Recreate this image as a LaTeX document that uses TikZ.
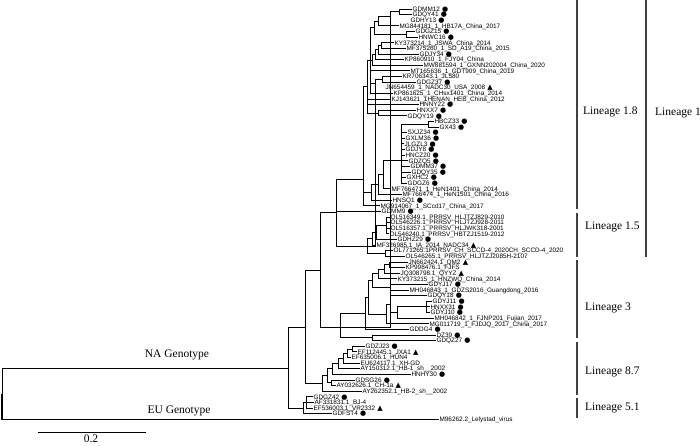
\documentclass[tikz,border=0pt]{standalone}
\usepackage{fontspec}
\setmainfont{Liberation Serif}
\newfontfamily\labfont{Liberation Sans}
\newfontfamily\mkfont{DejaVu Sans}
\newcommand\mkdot{\hspace{2.2pt}{\mkfont\fontsize{7}{7}\selectfont ●}}
\newcommand\mktri{\hspace{2.2pt}{\mkfont\fontsize{7}{7}\selectfont ▲}}
\newcommand\lf[4]{\node[leaf] (L#1) at (#2,{9+5.62*(#1-1)}) {#3#4};}
\newcommand\kids[2]{\foreach \c in {#2} {\draw[br] (#1) |- (\c);}}
\begin{document}
\begin{tikzpicture}[x=1pt,y=-1pt,
  leaf/.style={anchor=west, inner sep=0.4pt, font=\labfont\fontsize{6.4}{7}\selectfont, text height=4.6pt, text depth=0pt},
  br/.style={line width=0.8pt, black},
  lin/.style={line width=1.7pt, black!75},
  big/.style={inner sep=0pt, font=\fontsize{11.5}{13}\selectfont}]
\useasboundingbox (0,0) rectangle (700,445);
% leaves
\lf{1}{412}{GDMM12}{\mkdot}
\lf{2}{412}{GDQY41}{\mkdot}
\lf{3}{410}{GDHY13}{\mkdot}
\lf{4}{399}{MG844181\_1\_HB17A\_China\_2017}{}
\lf{5}{415}{GDGZ15}{\mkdot}
\lf{6}{418}{HNWC16}{\mkdot}
\lf{7}{394}{KY373214\_1\_JSWA\_China\_2014}{}
\lf{8}{406}{MF375260\_1\_SD\_A19\_China\_2015}{}
\lf{9}{419}{GDJY34}{\mkdot}
\lf{10}{404}{KP860910\_1\_FJY04\_China}{}
\lf{11}{423}{MW881594\_1\_GXNN202004\_China\_2020}{}
\lf{12}{410}{MT165636\_1\_GDT909\_China\_2019}{}
\lf{13}{402}{KR706343.1\_JL580}{}
\lf{14}{416}{GDGZ37}{\mkdot}
\lf{15}{385}{JN654459\_1\_NADC30\_USA\_2008}{\mktri}
\lf{16}{393}{KP861625\_1\_CHsx1401\_China\_2014}{}
\lf{17}{391}{KJ143621\_1HENAN\_HEB\_China\_2012}{}
\lf{18}{419}{HNNY22}{\mkdot}
\lf{19}{416}{HNXX7}{\mkdot}
\lf{20}{407}{GDQY19}{\mkdot}
\lf{21}{434}{HBCZ33}{\mkdot}
\lf{22}{439}{GX43}{\mkdot}
\lf{23}{407}{SXJZ34}{\mkdot}
\lf{24}{405}{GXLM36}{\mkdot}
\lf{25}{404}{JLGZL3}{\mkdot}
\lf{26}{405}{GDJY8}{\mkdot}
\lf{27}{405}{HNCZ20}{\mkdot}
\lf{28}{408}{GDZQ5}{\mkdot}
\lf{29}{410}{GDMM37}{\mkdot}
\lf{30}{411}{GDQY35}{\mkdot}
\lf{31}{406}{GXHC2}{\mkdot}
\lf{32}{407}{GDGZ6}{\mkdot}
\lf{33}{391}{MF766471\_1\_HeN1401\_China\_2014}{}
\lf{34}{402}{MF766474\_1\_HeN1501\_China\_2016}{}
\lf{35}{392}{HNSQ1}{\mkdot}
\lf{36}{380}{MG914067\_1\_SCcd17\_China\_2017}{}
\lf{37}{381}{GDMM9}{\mkdot}
\lf{38}{390}{OL516349.1\_PRRSV\_HLJTZJ829-2010}{}
\lf{39}{390}{OL546226.1\_PRRSV\_HLJTZJ928-2011}{}
\lf{40}{390}{OL516357.1\_PRRSV\_HLJWK318-2001}{}
\lf{41}{389}{OL546240.1\_PRRSV\_HBTZJ1519-2012}{}
\lf{42}{397}{GDHZ29}{\mkdot}
\lf{43}{376}{MF326985.1\_IA\_2014\_NADC34}{\mktri}
\lf{44}{393}{OL771265.1PRRSV\_CH\_SCCD-4\_2020CH\_SCCD-4\_2020}{}
\lf{45}{405}{OL546265.1\_PRRSV\_HLJTZJ2085H-2107}{}
\lf{46}{408}{JN662424.1\_QM2}{\mktri}
\lf{47}{405}{KP998476.1\_FJFS}{}
\lf{48}{400}{JQ308798.1\_QYYZ}{\mktri}
\lf{49}{397}{KY373215\_1\_HNZWQ\_China\_2014}{}
\lf{50}{428}{GDYJ17}{\mkdot}
\lf{51}{409}{MH046843\_1\_GDZS2016\_Guangdong\_2016}{}
\lf{52}{427}{GDQY18}{\mkdot}
\lf{53}{432}{GDYJ11}{\mkdot}
\lf{54}{430}{HNXX31}{\mkdot}
\lf{55}{430}{GDYJ10}{\mkdot}
\lf{56}{434}{MH046842\_1\_FJNP201\_Fujian\_2017}{}
\lf{57}{429}{MG011719\_1\_FJDJQ\_2017\_China\_2017}{}
\lf{58}{409}{GDDG4}{\mkdot}
\lf{59}{436}{DZ39}{\mkdot}
\lf{60}{436}{GDQZ27}{\mkdot}
\lf{61}{365}{GDZJ23}{\mkdot}
\lf{62}{357}{EF112445.1\_JXA1}{\mktri}
\lf{63}{351}{EF635006.1\_HUN4}{}
\lf{64}{360}{EU624117.1\_XH-GD}{}
\lf{65}{360}{AY150312.1\_HB-1\_sh\_\_2002}{}
\lf{66}{411}{HNHY30}{\mkdot}
\lf{67}{355}{GDSG26}{\mkdot}
\lf{68}{336}{AY032626.1\_CH-1a}{\mktri}
\lf{69}{362}{AY262352.1\_HB-2\_sh\_\_2002}{}
\lf{70}{313}{GDGZ42}{\mkdot}
\lf{71}{314}{AF331831.1\_BJ-4}{}
\lf{72}{313}{EF536003.1\_VR2332}{\mktri}
\lf{73}{332}{GDFST4}{\mkdot}
\lf{74}{439}{M96262.2\_Lelystad\_virus}{}
% internal nodes
\coordinate (A1) at (399,11.8);
\coordinate (A2) at (390,16.0);
\coordinate (A3) at (378,20.95);
\coordinate (A4) at (406,34.3);
\coordinate (A5) at (374,27.6);
\coordinate (A6) at (381,45.5);
\coordinate (A7) at (378,49.75);
\coordinate (A8) at (375,54.7);
\coordinate (A9) at (372,59.95);
\coordinate (A10) at (382,79.25);
\coordinate (A11) at (375,83.5);
\coordinate (A14) at (378,113);
\coordinate (S) at (370,60);
\coordinate (S0) at (367,86.5);
\coordinate (HB) at (428,124.2);
\coordinate (K) at (401,160);
\coordinate (M1) at (383,174.4);
\coordinate (M2) at (378,184.4);
\coordinate (M3) at (371,192.25);
\coordinate (E) at (363,179);
\coordinate (D) at (336,212);
\coordinate (O1) at (386,225.35);
\coordinate (O2) at (376,232.4);
\coordinate (O3) at (372,238.7);
\coordinate (O4) at (385,253.45);
\coordinate (L15) at (367,246);
\coordinate (Q1) at (389,264.7);
\coordinate (Q2) at (384,268.9);
\coordinate (Q3) at (378,273.8);
\coordinate (Q4) at (390,287.2);
\coordinate (Q5) at (372,280.5);
\coordinate (R1) at (426,306.8);
\coordinate (R2) at (397,312.45);
\coordinate (R3) at (390,304);
\coordinate (R4) at (386,313.9);
\coordinate (R5) at (368,297.2);
\coordinate (R6) at (365,313.25);
\coordinate (U3) at (372,337.75);
\coordinate (L3) at (340,327);
\coordinate (C) at (320,270);
\coordinate (P1) at (352,349);
\coordinate (P2) at (347,353.2);
\coordinate (P3) at (343,358.1);
\coordinate (P4) at (338,363.4);
\coordinate (P5) at (332,368.85);
\coordinate (P6) at (331,382.7);
\coordinate (P7) at (327,375.8);
\coordinate (P8) at (322,383.4);
\coordinate (B) at (305,327);
\coordinate (V1) at (306,402.35);
\coordinate (V2) at (303,408);
\coordinate (NA) at (288,368);
\coordinate (RT) at (2,393.6);
% branches
\kids{A1}{L1,L2}
\kids{A2}{A1,L3}
\kids{A3}{A2,L4}
\kids{A4}{L5,L6}
\kids{A5}{A3,A4}
\kids{A6}{L7,L8}
\kids{A7}{A6,L9}
\kids{A8}{A7,L10}
\kids{A9}{A8,L11}
\kids{A10}{L13,L14}
\kids{A11}{A10,L15}
\kids{A14}{L19,L20}
\kids{S}{A5,A9,L12,A11,L16}
\kids{S0}{S,L17,L18,A14}
\kids{HB}{L21,L22}
\kids{K}{HB,L23,L24,L25,L26,L27,L28,L29,L30,L31,L32}
\kids{M1}{K,L33}
\kids{M2}{M1,L34}
\kids{M3}{M2,L35}
\kids{E}{S0,M3,L36}
\kids{O1}{L38,L39,L40,L41}
\kids{O2}{O1,L42}
\kids{O3}{O2,L43}
\kids{O4}{L44,L45}
\kids{L15}{O3,O4}
\kids{D}{E,L37,L15}
\kids{Q1}{L46,L47}
\kids{Q2}{Q1,L48}
\kids{Q3}{Q2,L49}
\kids{Q4}{L50,L51}
\kids{Q5}{Q3,Q4}
\kids{R1}{L53,L54,L55}
\kids{R2}{R1,L56}
\kids{R3}{L52,R2}
\kids{R4}{R3,L57}
\kids{R5}{Q5,R4}
\kids{R6}{R5,L58}
\kids{U3}{L59,L60}
\kids{L3}{R6,U3}
\kids{C}{D,L3}
\kids{P1}{L61,L62}
\kids{P2}{P1,L63}
\kids{P3}{P2,L64}
\kids{P4}{P3,L65}
\kids{P5}{P4,L66}
\kids{P6}{L67,L68}
\kids{P7}{P5,P6}
\kids{P8}{P7,L69}
\kids{B}{C,P8}
\kids{V1}{L70,L71,L72}
\kids{V2}{V1,L73}
\kids{NA}{B,V2}
\kids{RT}{NA}
\draw[br, line width=1.4pt] (RT) |- (L74);
% lineage bars
\draw[lin] (577,0) -- (577,209);
\draw[lin] (577,213) -- (577,257);
\draw[lin] (577,260) -- (577,338);
\draw[lin] (577,342) -- (577,395);
\draw[lin] (577,398) -- (577,418);
\draw[lin] (646,0) -- (646,257);
\node[big, anchor=west] (t18) at (583,112) {Lineage 1.8};
\node[big, anchor=west] (t1) at (655,113) {Lineage 1};
\node[big, anchor=west] (t15) at (585,227) {Lineage 1.5};
\node[big, anchor=west] (t3) at (585,308) {Lineage 3};
\node[big, anchor=west] (t87) at (585,372) {Lineage 8.7};
\node[big, anchor=west] (t51) at (585,408) {Lineage 5.1};
\node[big] (na) at (177,355) {NA Genotype};
\node[big] (eu) at (179,411) {EU Genotype};
\coordinate (s1) at (38,432.7);
\coordinate (s2) at (146,432.7);
\draw[br] (s1) -- (s2);
\node[big] (sc) at (91,439) {0.2};
\end{tikzpicture}
\end{document}
